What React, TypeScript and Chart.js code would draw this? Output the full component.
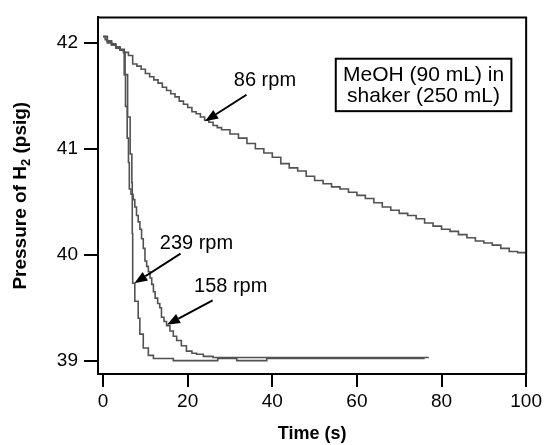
import React, { useEffect, useRef } from "react";
import { Chart, registerables } from "chart.js";

Chart.register(...registerables);

// ---- data ----
const xTicks = [0, 20, 40, 60, 80, 100];
const yTicks = [39, 40, 41, 42];

const t86 = [0, 0.5, 1, 2, 3, 4, 5, 6, 7, 8, 9, 10, 11, 12, 13, 14, 15, 16, 17, 18, 19, 20, 21, 22, 23, 24, 25, 26, 27, 28, 30, 32, 34, 36, 38, 40, 42, 44, 46, 48, 50, 52, 54, 56, 58, 60, 62, 64, 66, 68, 70, 72, 74, 76, 78, 80, 82, 84, 86, 88, 90, 92, 94, 96, 98, 100];
const p86 = [42.06, 42.03, 42.02, 41.99, 41.96, 41.94, 41.91, 41.88, 41.8, 41.78, 41.75, 41.71, 41.68, 41.65, 41.62, 41.58, 41.55, 41.52, 41.49, 41.45, 41.42, 41.39, 41.35, 41.33, 41.3, 41.27, 41.25, 41.22, 41.2, 41.18, 41.14, 41.1, 41.05, 41.0, 40.96, 40.92, 40.86, 40.82, 40.79, 40.74, 40.7, 40.67, 40.64, 40.62, 40.59, 40.56, 40.53, 40.49, 40.45, 40.42, 40.39, 40.37, 40.34, 40.3, 40.27, 40.24, 40.22, 40.19, 40.16, 40.13, 40.11, 40.09, 40.06, 40.03, 40.02, 40.02];

const t158 = [0, 1, 2, 3, 4, 4.8, 5.0, 5.3, 5.7, 6.0, 6.2, 6.6, 7.1, 7.5, 7.9, 8.3, 8.7, 9.1, 9.5, 9.9, 10.3, 10.7, 11.1, 11.5, 11.9, 12.3, 12.9, 13.4, 13.8, 14.4, 15.0, 15.8, 16.6, 17.4, 18.5, 19.7, 21, 22.1, 23.7, 26, 40, 60, 77];
const p158 = [42.06, 42.01, 41.98, 41.96, 41.93, 41.91, 41.7, 41.4, 41.1, 40.87, 40.62, 40.57, 40.52, 40.45, 40.37, 40.31, 40.24, 40.15, 40.06, 39.94, 39.89, 39.84, 39.78, 39.72, 39.65, 39.59, 39.54, 39.5, 39.41, 39.37, 39.33, 39.28, 39.23, 39.19, 39.14, 39.09, 39.07, 39.06, 39.04, 39.03, 39.03, 39.03, 39.03];

const t239 = [0, 1, 2, 3, 4, 4.9, 5.2, 5.8, 6.4, 6.8, 6.9, 7.0, 7.5, 8.3, 8.7, 9.5, 10.7, 11.9, 16.5, 16.6, 27, 27.1, 31.5, 31.6, 38.6, 38.7, 76];
const p239 = [42.06, 42.0, 41.98, 41.95, 41.93, 41.91, 41.7, 41.3, 40.95, 40.68, 40.2, 39.73, 39.56, 39.4, 39.25, 39.12, 39.05, 39.02, 39.02, 39.0, 39.0, 39.02, 39.02, 39.0, 39.0, 39.02, 39.02];

const seriesNames = ["86 rpm", "158 rpm", "239 rpm"];
const boxLines = ["MeOH (90 mL) in", "shaker (250 mL)"];
const xTitle = "Time (s)";
const yTitleParts = ["Pressure of H", "2", " (psig)"];

// annotation anchors (data coordinates)
const arrowNotes = [
  { text: "86 rpm", tx: 30.9, ty: 41.64, x1: 33.9, y1: 41.51, x2: 24.1, y2: 41.26 },
  { text: "239 rpm", tx: 13.4, ty: 40.11, x1: 18.3, y1: 40.01, x2: 7.4, y2: 39.73 },
  { text: "158 rpm", tx: 21.5, ty: 39.7, x1: 25.9, y1: 39.57, x2: 15.1, y2: 39.34 },
];
const boxPos = { x1: 55.0, x2: 96.5, y1: 41.85, y2: 41.355 };

const FONT = '"Liberation Sans", Arial, sans-serif';
const LINE = "rgb(82,82,82)";

const toXY = (t: number[], p: number[]) => t.map((v, i) => ({ x: v, y: p[i] }));

const annotPlugin = {
  id: "annot",
  afterDatasetsDraw(chart: any) {
    const { ctx, chartArea, scales } = chart;
    const xs = scales.x;
    const ys = scales.y;
    ctx.save();
    // frame top & right
    ctx.strokeStyle = "#000";
    ctx.lineWidth = 2;
    ctx.beginPath();
    ctx.moveTo(chartArea.left - 1, chartArea.top);
    ctx.lineTo(chartArea.right, chartArea.top);
    ctx.lineTo(chartArea.right, chartArea.bottom);
    ctx.stroke();

    ctx.font = `20px ${FONT}`;
    ctx.fillStyle = "#000";
    ctx.textBaseline = "middle";
    ctx.textAlign = "left";
    for (const n of arrowNotes) {
      ctx.fillText(n.text, xs.getPixelForValue(n.tx), ys.getPixelForValue(n.ty));
      const ax = xs.getPixelForValue(n.x1);
      const ay = ys.getPixelForValue(n.y1);
      const bx = xs.getPixelForValue(n.x2);
      const by = ys.getPixelForValue(n.y2);
      const ang = Math.atan2(by - ay, bx - ax);
      const hl = 13;
      const hw = 5;
      const ex = bx - hl * Math.cos(ang);
      const ey = by - hl * Math.sin(ang);
      ctx.lineWidth = 2;
      ctx.beginPath();
      ctx.moveTo(ax, ay);
      ctx.lineTo(ex, ey);
      ctx.stroke();
      ctx.beginPath();
      ctx.moveTo(bx, by);
      ctx.lineTo(ex + hw * Math.sin(ang), ey - hw * Math.cos(ang));
      ctx.lineTo(ex - hw * Math.sin(ang), ey + hw * Math.cos(ang));
      ctx.closePath();
      ctx.fill();
    }
    // box
    const bx1 = xs.getPixelForValue(boxPos.x1);
    const bx2 = xs.getPixelForValue(boxPos.x2);
    const by1 = ys.getPixelForValue(boxPos.y1);
    const by2 = ys.getPixelForValue(boxPos.y2);
    ctx.fillStyle = "#fff";
    ctx.fillRect(bx1, by1, bx2 - bx1, by2 - by1);
    ctx.lineWidth = 2;
    ctx.strokeRect(bx1, by1, bx2 - bx1, by2 - by1);
    ctx.fillStyle = "#000";
    ctx.textAlign = "center";
    ctx.font = `21px ${FONT}`;
    const cx = (bx1 + bx2) / 2;
    const h = by2 - by1;
    ctx.fillText(boxLines[0], cx, by1 + h * 0.32);
    ctx.fillText(boxLines[1], cx, by1 + h * 0.72);

    // y-axis title with a real subscript
    const big = `bold 19px ${FONT}`;
    const small = `bold 13px ${FONT}`;
    ctx.font = big;
    const w0 = ctx.measureText(yTitleParts[0]).width;
    const w2 = ctx.measureText(yTitleParts[2]).width;
    ctx.font = small;
    const w1 = ctx.measureText(yTitleParts[1]).width;
    const total = w0 + w1 + w2;
    const cy = (chartArea.top + chartArea.bottom) / 2;
    ctx.translate(19, cy);
    ctx.rotate(-Math.PI / 2);
    ctx.textAlign = "left";
    ctx.textBaseline = "alphabetic";
    let pos = -total / 2;
    ctx.font = big;
    ctx.fillText(yTitleParts[0], pos, 7);
    pos += w0;
    ctx.font = small;
    ctx.fillText(yTitleParts[1], pos, 11);
    pos += w1;
    ctx.font = big;
    ctx.fillText(yTitleParts[2], pos, 7);
    ctx.restore();
  },
};

export default function App() {
  const ref = useRef<HTMLCanvasElement | null>(null);
  useEffect(() => {
    if (!ref.current) return;
    const mk = (label: string, t: number[], p: number[]) => ({
      label,
      data: toXY(t, p),
      borderColor: LINE,
      borderWidth: 1.6,
      pointRadius: 0,
      fill: false,
      stepped: true,
      tension: 0,
    });
    const chart = new Chart(ref.current, {
      type: "line",
      data: {
        datasets: [
          mk(seriesNames[0], t86, p86),
          mk(seriesNames[1], t158, p158),
          mk(seriesNames[2], t239, p239),
        ],
      },
      options: {
        animation: false,
        responsive: false,
        layout: { padding: { top: 13, right: 18, left: 0, bottom: 0 } },
        plugins: { legend: { display: false }, tooltip: { enabled: false } },
        scales: {
          x: {
            type: "linear",
            min: -1.2,
            max: 100,
            afterBuildTicks: (s: any) => {
              s.ticks = xTicks.map((v) => ({ value: v }));
            },
            afterFit: (s: any) => {
              s.height = 71;
            },
            border: { display: true, color: "#000", width: 2 },
            grid: { display: true, drawOnChartArea: false, drawTicks: true, tickLength: 13, color: "#000", lineWidth: 2 },
            ticks: { color: "#000", font: { family: FONT, size: 19 }, padding: 3, maxRotation: 0 },
            title: { display: true, text: xTitle, color: "#000", font: { family: FONT, size: 18, weight: "bold" }, padding: { top: 7, bottom: 0 } },
          },
          y: {
            type: "linear",
            min: 38.874,
            max: 42.24,
            afterBuildTicks: (s: any) => {
              s.ticks = yTicks.map((v) => ({ value: v }));
            },
            afterFit: (s: any) => {
              s.width = 98;
            },
            border: { display: true, color: "#000", width: 2 },
            grid: { display: true, drawOnChartArea: false, drawTicks: true, tickLength: 14, color: "#000", lineWidth: 2 },
            ticks: { color: "#000", font: { family: FONT, size: 19 }, padding: 6 },
            title: { display: false },
          },
        },
      },
      plugins: [annotPlugin],
    });
    return () => chart.destroy();
  }, []);
  return (
    <canvas
      ref={ref}
      width={545}
      height={445}
      style={{ position: "fixed", left: 0, top: 0, display: "block", width: 545, height: 445 }}
    />
  );
}
